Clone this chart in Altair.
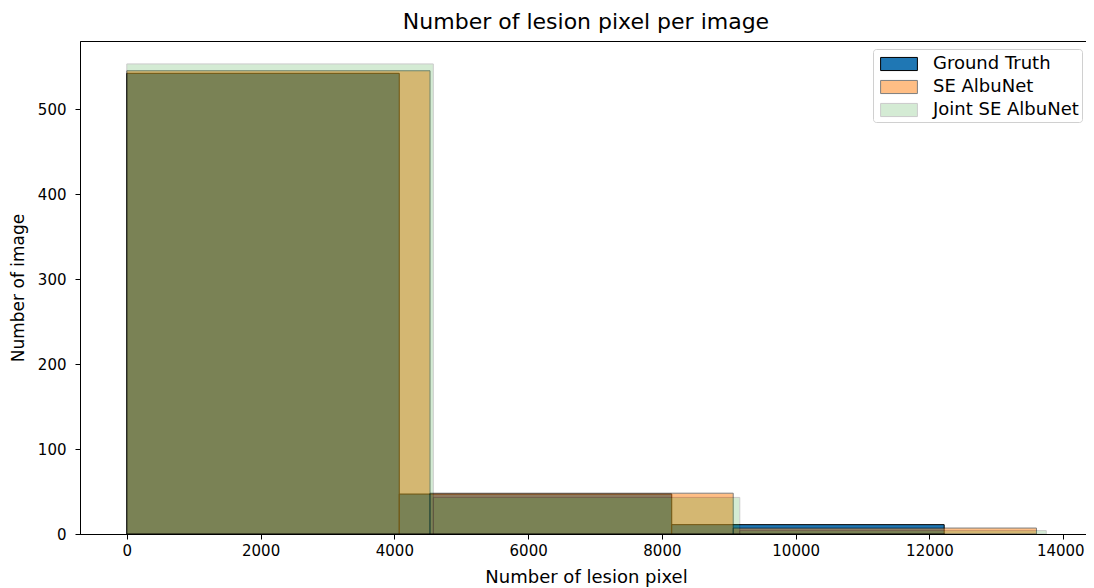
import altair as alt
import pandas as pd

series_names = ["Ground Truth", "SE AlbuNet", "Joint SE AlbuNet"]
gt_edges = [0, 4073, 8147, 12220]
gt_counts = [542, 47, 11]
se_edges = [0, 4533, 9066, 13600]
se_counts = [545, 48, 7]
joint_edges = [0, 4582, 9164, 13746]
joint_counts = [553, 43, 4]
colors = ["#1f77b4", "#ff7f0e", "#2ca02c"]
edge_colors = ["black", "black", "black"]
alphas = [1.0, 0.5, 0.2]
x_ticks = [0, 2000, 4000, 6000, 8000, 10000, 12000, 14000]
y_ticks = [0, 100, 200, 300, 400, 500]

rows = []
for name, edges, counts in zip(series_names, [gt_edges, se_edges, joint_edges],
                               [gt_counts, se_counts, joint_counts]):
    for j, c in enumerate(counts):
        rows.append({"series": name, "x0": edges[j], "x1": edges[j + 1], "count": c})
df = pd.DataFrame(rows)

FONT = "DejaVu Sans"

legend = alt.Legend(title=None, orient="none", legendX=793, legendY=8,
                    strokeColor="#d0d0d0", fillColor="white",
                    cornerRadius=3, padding=3,
                    labelFont=FONT, labelFontSize=18, labelColor="black",
                    symbolType="M-1.6,-0.57L1.6,-0.57L1.6,0.57L-1.6,0.57Z",
                    symbolSize=529, symbolStrokeWidth=1, symbolOffset=11,
                    labelOffset=22, rowPadding=2)

chart = alt.Chart(df).mark_rect(strokeWidth=1).encode(
    x=alt.X("x0:Q",
            scale=alt.Scale(domain=[-700, 14430], nice=False, zero=False),
            axis=alt.Axis(values=x_ticks, title="Number of lesion pixel", grid=False,
                          format="d", labelFlush=False, titlePadding=10,
                          labelOffset={"condition": {"test": "datum.value == 14000", "value": -3},
                                       "value": 0})),
    x2="x1:Q",
    y=alt.Y("count:Q",
            scale=alt.Scale(domain=[0, 580], nice=False),
            axis=alt.Axis(values=y_ticks, title="Number of image", grid=False,
                          titlePadding=10, titleFontSize=17,
                          labelFlush=False, labelPadding=9)),
    y2=alt.datum(0),
    color=alt.Color("series:N",
                    scale=alt.Scale(domain=series_names, range=colors),
                    legend=legend),
    stroke=alt.Stroke("series:N",
                      scale=alt.Scale(type="ordinal", domain=series_names, range=edge_colors),
                      legend=legend),
    opacity=alt.Opacity("series:N",
                        scale=alt.Scale(type="ordinal", domain=series_names, range=alphas),
                        legend=legend),
).properties(
    width=1012,
    height=493,
    title=alt.Title("Number of lesion pixel per image", font=FONT, fontSize=22,
                    fontWeight="normal", color="black", offset=7),
    autosize=alt.AutoSizeParams(type="none"),
    padding={"left": 72, "top": 33, "right": -6, "bottom": 54},
).configure_view(
    stroke="black", strokeWidth=1
).configure_axis(
    labelFont=FONT, labelFontSize=15, labelColor="black",
    titleFont=FONT, titleFontSize=18, titleFontWeight="normal", titleColor="black",
    tickColor="black", domainColor="black", tickSize=5, labelPadding=4,
)

chart.save("out.html", embed_options={"renderer": "svg", "actions": False})
